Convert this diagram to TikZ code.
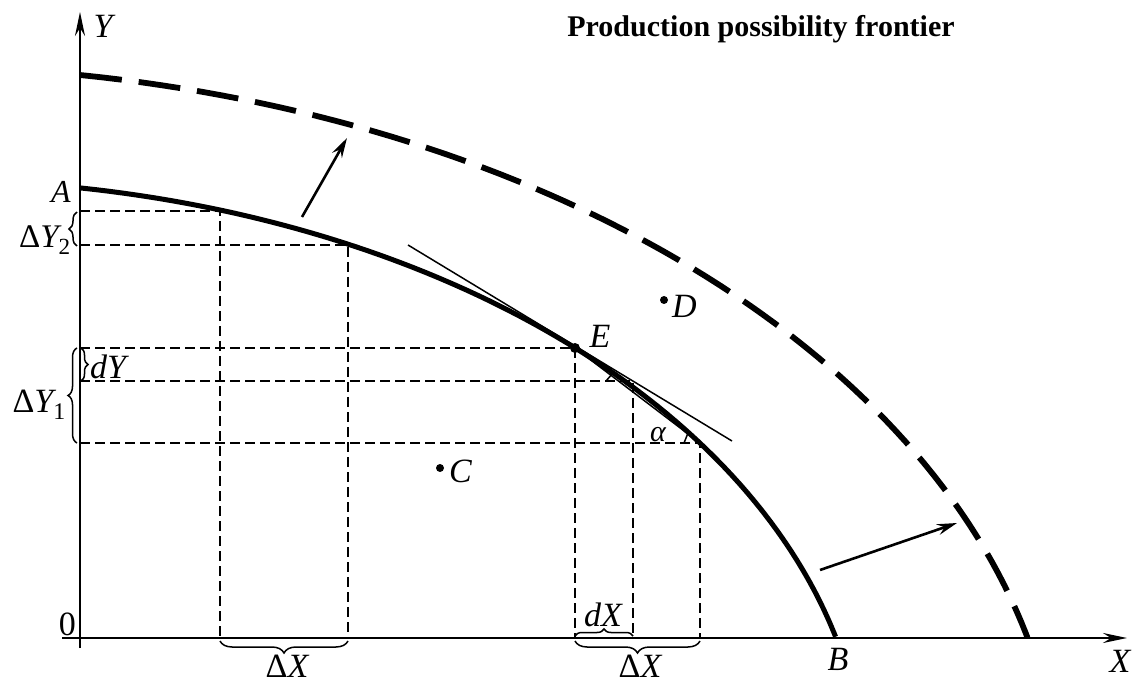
\documentclass[tikz,border=0pt]{standalone}
\usepackage{fontspec}
\setmainfont{Liberation Serif}
\usetikzlibrary{arrows.meta,decorations.pathreplacing}
\begin{document}
\begin{tikzpicture}[x=1pt,y=-1pt,
  axisline/.style={line width=2.4pt},
  ppf/.style={line width=5pt},
  ppfnew/.style={line width=5.8pt, dash pattern=on 42pt off 17pt},
  guide/.style={line width=1.5pt, dash pattern=on 10pt off 5pt},
  tline/.style={line width=1.5pt},
  brc/.style={decorate, decoration={brace, amplitude=#1}, line width=1.5pt},
  lbl/.style={font=\fontsize{#1}{#1}\selectfont\itshape, inner sep=0pt},
  lbl/.default=34,
  pdot/.style={circle, fill, inner sep=0pt, minimum size=#1},
  pdot/.default=8pt,
  axtip/.style={-{Stealth[length=24pt,width=10pt,inset=8pt]}},
  growarrow/.style={line width=2.6pt, -{Stealth[length=20pt,width=11pt,inset=7pt]}},
]
\useasboundingbox (0,0) rectangle (1135,684);

% axes
\coordinate (Ybot) at (80,648);
\coordinate (Ytop) at (80,12);
\coordinate (Xl) at (62,638);
\coordinate (Xr) at (1127,638);
\draw[axisline,axtip] (Ybot) -- (Ytop);
\draw[axisline,axtip] (Xl) -- (Xr);

% guide lines
\coordinate (g1) at (80,211);  \coordinate (h1) at (220,638);
\coordinate (g2) at (80,245);  \coordinate (h2) at (348,638);
\coordinate (g3) at (80,348);  \coordinate (h3) at (575,638);
\coordinate (g4) at (80,381);  \coordinate (h4) at (633,638);
\coordinate (g5) at (80,443);  \coordinate (h5) at (700,638);
\draw[guide] (g1) -| (h1);
\draw[guide] (g2) -| (h2);
\draw[guide] (g3) -| (h3);
\draw[guide] (g4) -| (h4);
\draw[guide] (g5) -| (h5);

% frontier curves (elliptic arcs)
\draw[ppf] plot[domain=0:1, samples=150, variable=\s]
  ({-70+935*cos(80.77-66.49*\s)}, {788-608*sin(80.77-66.49*\s)});
\draw[ppfnew] plot[domain=0:1, samples=180, variable=\s]
  ({-100+1161.4*cos(81.08-67.23*\s)}, {818-752.1*sin(81.08-67.23*\s)});

% tangent and chord
\node[pdot=10pt] (E) at (575,348) {};
\coordinate (T1) at (408,245);
\coordinate (T2) at (732,441);
\coordinate (P2) at (700,443);
\draw[tline] (T1) -- (T2);
\draw[tline] (E.center) -- (P2);
% angle marks
\coordinate (am1) at (684,443); \coordinate (am2) at (688,433);
\draw[tline] (am1) -- (am2);
\coordinate (am3) at (606,381); \coordinate (am4) at (613,373);
\draw[tline] (am3) -- (am4);

% shift arrows
\coordinate (s1a) at (302,217); \coordinate (s1b) at (347,138);
\coordinate (s2a) at (820,570); \coordinate (s2b) at (957,523);
\draw[growarrow] (s1a) -- (s1b);
\draw[growarrow] (s2a) -- (s2b);

% points
\node[pdot] (D) at (664,300) {};
\node[pdot] (C) at (440,468) {};

% braces
\coordinate (b1a) at (77,246); \coordinate (b1b) at (77,212);
\draw[brc=8pt] (b1a) -- (b1b);
\coordinate (b2a) at (77,443); \coordinate (b2b) at (77,348);
\draw[brc=9pt] (b2a) -- (b2b);
\coordinate (b3a) at (81,348); \coordinate (b3b) at (81,381);
\draw[brc=7pt] (b3a) -- (b3b);
\coordinate (b4a) at (348,641); \coordinate (b4b) at (220,641);
\draw[brc=12pt] (b4a) -- (b4b);
\coordinate (b5a) at (700,641); \coordinate (b5b) at (575,641);
\draw[brc=12pt] (b5a) -- (b5b);
\coordinate (b6a) at (575,636); \coordinate (b6b) at (633,636);
\draw[brc=7pt] (b6a) -- (b6b);

% labels
\node[font=\fontsize{30}{36}\selectfont\bfseries, anchor=base, inner sep=0pt] (title) at (761,37) {Production possibility frontier};
\node[lbl, anchor=base] (lY) at (103,38) {Y};
\node[lbl, anchor=base] (lX) at (1120,672) {X};
\node[lbl, anchor=base east, font=\fontsize{34}{34}\selectfont\upshape] (l0) at (76,635) {0};
\node[lbl, anchor=base] (lB) at (838,670) {B};
\node[lbl=32, anchor=base] (lA) at (61,203) {A};
\node[lbl, anchor=base] (lE) at (600,348) {E};
\node[lbl, anchor=base west] (lD) at (672,318) {D};
\node[lbl, anchor=base west] (lC) at (449,482) {C};
\node[lbl=30, anchor=base] (lal) at (658,441) {α};
\node[lbl, anchor=base west] (ldY) at (90,378) {dY};
\node[lbl, anchor=base] (ldX) at (603,626) {dX};
\node[lbl, anchor=base] (lDX1) at (287,677) {{\upshape Δ}X};
\node[lbl, anchor=base] (lDX2) at (640,677) {{\upshape Δ}X};
\node[lbl=33, anchor=base east] (lDY2) at (71,248) {{\upshape Δ}Y\textsubscript{\upshape 2}};
\node[lbl=34, anchor=base east] (lDY1) at (66,412) {{\upshape Δ}Y\textsubscript{\upshape 1}};
\end{tikzpicture}
\end{document}
